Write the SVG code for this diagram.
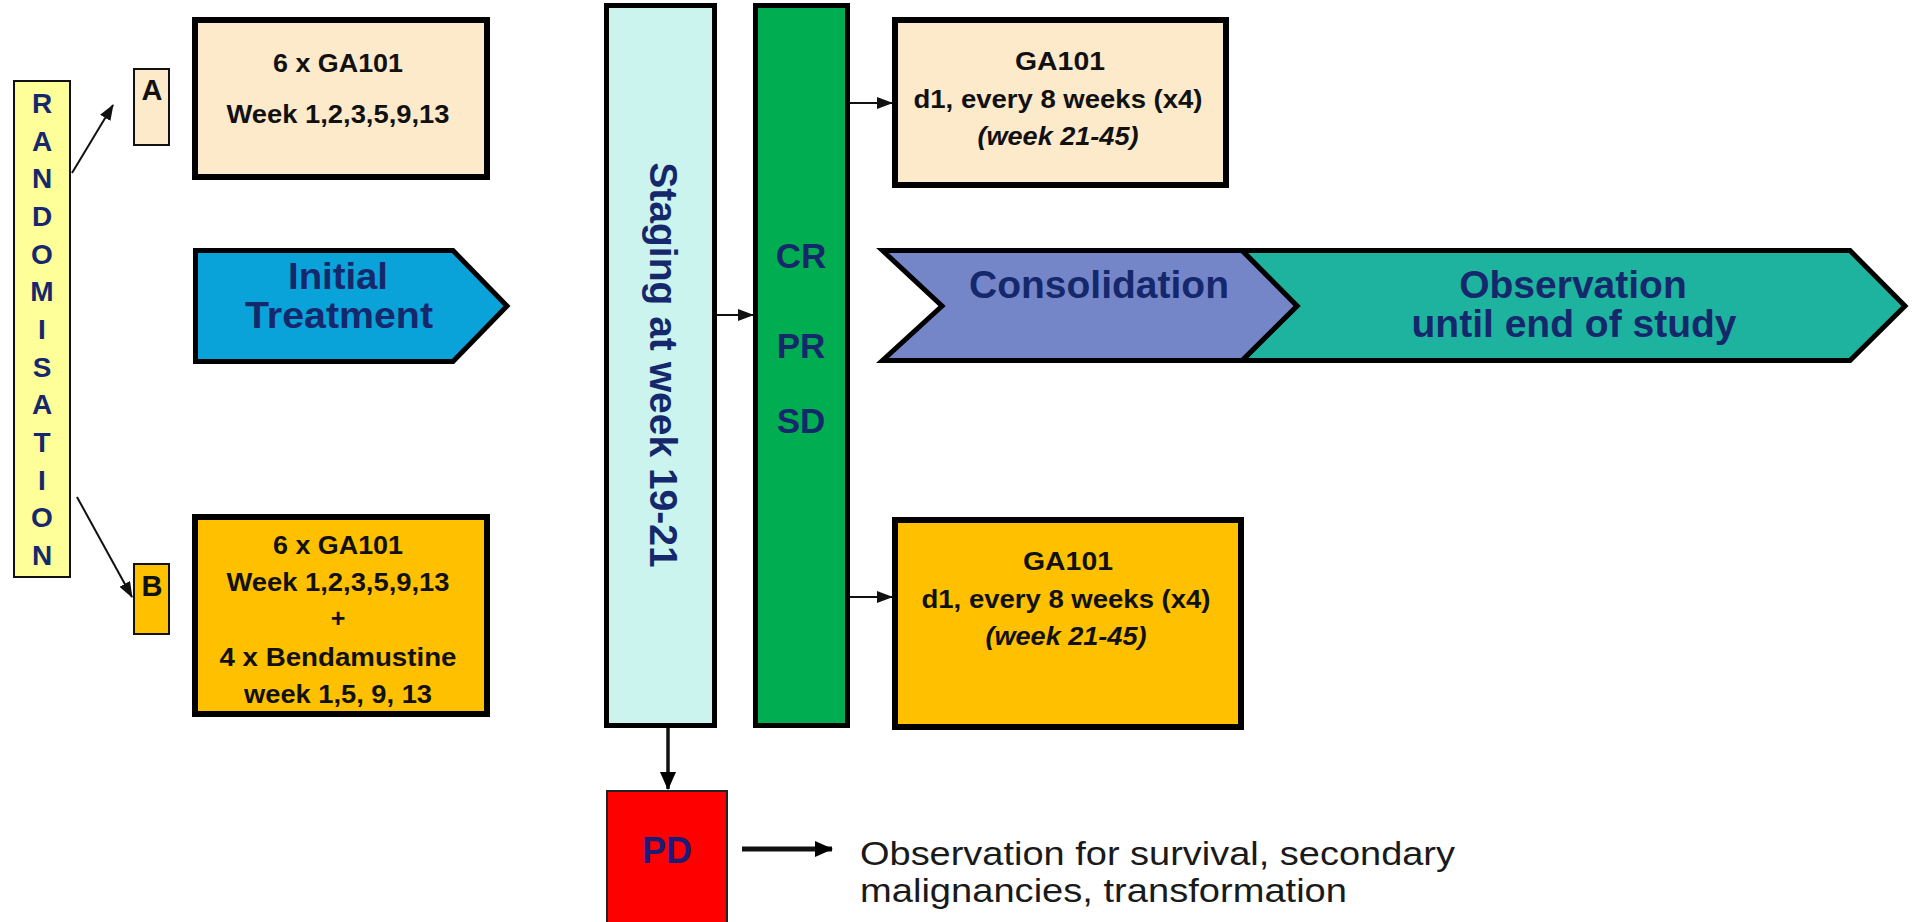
<svg xmlns="http://www.w3.org/2000/svg" width="1919" height="922" viewBox="0 0 1919 922">
<style>
text{font-family:"Liberation Sans",Arial,Helvetica,sans-serif}
.navy{fill:#16286c}
.blk{fill:#111}
.b{font-weight:bold}
.big{font-size:39px;font-weight:bold;fill:#16286c;text-anchor:middle}
.bx{font-size:25px;font-weight:bold;fill:#111;text-anchor:middle}
.rl{font-size:28px;font-weight:bold;fill:#16286c;text-anchor:middle}
.thick{stroke:#000;stroke-width:6}
.mid{stroke:#000;stroke-width:5}
.thin{stroke:#111;stroke-width:2}
.con{stroke:#111;fill:none}
</style>
<defs>
<marker id="ah" markerUnits="userSpaceOnUse" markerWidth="16" markerHeight="12" refX="15" refY="6" orient="auto"><path d="M0,0 L16,6 L0,12 z" fill="#111"/></marker>
<marker id="ahl" markerUnits="userSpaceOnUse" markerWidth="18" markerHeight="16" refX="17" refY="8" orient="auto"><path d="M0,0 L18,8 L0,16 z" fill="#000"/></marker>
</defs>
<rect width="1919" height="922" fill="#fff"/>

<g id="randomisation">
<rect x="14" y="81" width="56" height="496" fill="#ffff99" class="thin"/>
<text class="rl" x="42" y="113">R</text>
<text class="rl" x="42" y="151">A</text>
<text class="rl" x="42" y="188">N</text>
<text class="rl" x="42" y="226">D</text>
<text class="rl" x="42" y="264">O</text>
<text class="rl" x="42" y="301">M</text>
<text class="rl" x="42" y="339">I</text>
<text class="rl" x="42" y="377">S</text>
<text class="rl" x="42" y="414">A</text>
<text class="rl" x="42" y="452">T</text>
<text class="rl" x="42" y="490">I</text>
<text class="rl" x="42" y="527">O</text>
<text class="rl" x="42" y="565">N</text>
</g>

<g id="armA">
<rect x="134" y="69" width="35" height="76" fill="#fdeacb" class="thin"/>
<text x="152" y="100" font-size="29" text-anchor="middle" class="blk b">A</text>
</g>

<g id="armB">
<rect x="134" y="564" width="35" height="70" fill="#ffc000" class="thin"/>
<text x="152" y="596" font-size="29" text-anchor="middle" class="blk b">B</text>
</g>

<g id="boxA">
<rect x="195" y="20" width="292" height="157" fill="#fdeacb" class="thick"/>
<text class="bx" x="338" y="72" textLength="130" lengthAdjust="spacingAndGlyphs">6 x GA101</text>
<text class="bx" x="338" y="123" textLength="223" lengthAdjust="spacingAndGlyphs">Week 1,2,3,5,9,13</text>
</g>

<g id="boxB">
<rect x="195" y="517" width="292" height="197" fill="#ffc000" class="thick"/>
<text class="bx" x="338" y="554" textLength="130" lengthAdjust="spacingAndGlyphs">6 x GA101</text>
<text class="bx" x="338" y="591" textLength="223" lengthAdjust="spacingAndGlyphs">Week 1,2,3,5,9,13</text>
<text class="bx" x="338" y="627">+</text>
<text class="bx" x="338" y="666" textLength="237" lengthAdjust="spacingAndGlyphs">4 x Bendamustine</text>
<text class="bx" x="338" y="703" textLength="188" lengthAdjust="spacingAndGlyphs">week 1,5, 9, 13</text>
</g>

<g id="initial">
<polygon points="195.5,250.5 453,250.5 507,306 453,361.5 195.5,361.5" fill="#0aa3d9" class="mid" stroke-linejoin="miter"/>
<text class="big" x="338" y="289" style="font-size:37px" textLength="100" lengthAdjust="spacingAndGlyphs">Initial</text>
<text class="big" x="339" y="328" style="font-size:37px" textLength="188" lengthAdjust="spacingAndGlyphs">Treatment</text>
</g>

<g id="staging">
<rect x="606.5" y="5.5" width="108" height="720" fill="#cbf4ef" class="mid"/>
<text class="big" transform="translate(650,365) rotate(90)" x="0" y="0">Staging at week 19-21</text>
</g>

<g id="response">
<rect x="755.5" y="5.5" width="92" height="720" fill="#00ad50" class="mid"/>
<text x="801" y="268" font-size="35" text-anchor="middle" class="navy b">CR</text>
<text x="801" y="358" font-size="35" text-anchor="middle" class="navy b">PR</text>
<text x="801" y="433" font-size="35" text-anchor="middle" class="navy b">SD</text>
</g>

<g id="maintA">
<rect x="895" y="20" width="331" height="165" fill="#fdeacb" class="thick"/>
<text class="bx" x="1060" y="70" textLength="90" lengthAdjust="spacingAndGlyphs">GA101</text>
<text class="bx" x="1058" y="108" textLength="289" lengthAdjust="spacingAndGlyphs">d1, every 8 weeks (x4)</text>
<text class="bx" x="1058" y="145" font-style="italic" textLength="161" lengthAdjust="spacingAndGlyphs">(week 21-45)</text>
</g>

<g id="maintB">
<rect x="895" y="520" width="346" height="207" fill="#ffc000" class="thick"/>
<text class="bx" x="1068" y="570" textLength="90" lengthAdjust="spacingAndGlyphs">GA101</text>
<text class="bx" x="1066" y="608" textLength="289" lengthAdjust="spacingAndGlyphs">d1, every 8 weeks (x4)</text>
<text class="bx" x="1066" y="645" font-style="italic" textLength="161" lengthAdjust="spacingAndGlyphs">(week 21-45)</text>
</g>

<g id="observation">
<polygon points="1242,250.5 1850,250.5 1905,306 1850,360.5 1242,360.5 1297,306" fill="#1db39e" class="mid"/>
<text class="big" x="1573" y="298">Observation</text>
<text class="big" x="1574" y="337">until end of study</text>
</g>

<g id="consolidation">
<polygon points="882.5,250.5 1242,250.5 1297,306 1242,360.5 882.5,360.5 942,306" fill="#7586c8" class="mid"/>
<text class="big" x="1099" y="298">Consolidation</text>
</g>

<g id="pd">
<rect x="607" y="791" width="120" height="140" fill="#ff0000" stroke="#222" stroke-width="2"/>
<text x="667" y="863" font-size="36" text-anchor="middle" fill="#1c1c78" class="b">PD</text>
</g>

<g id="pdtext">
<text x="860" y="865" font-size="33" fill="#1a1a1a" textLength="595" lengthAdjust="spacingAndGlyphs">Observation for survival, secondary</text>
<text x="860" y="902" font-size="33" fill="#1a1a1a" textLength="487" lengthAdjust="spacingAndGlyphs">malignancies, transformation</text>
</g>

<g id="connectors">
<line x1="72" y1="173" x2="113" y2="105" class="con" stroke-width="2" marker-end="url(#ah)"/>
<line x1="77" y1="497" x2="132" y2="597" class="con" stroke-width="2" marker-end="url(#ah)"/>
<line x1="717" y1="315" x2="753" y2="315" class="con" stroke-width="2" marker-end="url(#ah)"/>
<line x1="850" y1="103" x2="892" y2="103" class="con" stroke-width="2" marker-end="url(#ah)"/>
<line x1="850" y1="597" x2="892" y2="597" class="con" stroke-width="2" marker-end="url(#ah)"/>
<line x1="668" y1="728" x2="668" y2="789" class="con" stroke-width="3.5" marker-end="url(#ahl)"/>
<line x1="742" y1="849" x2="832" y2="849" class="con" stroke-width="5" marker-end="url(#ahl)"/>
</g>
</svg>
